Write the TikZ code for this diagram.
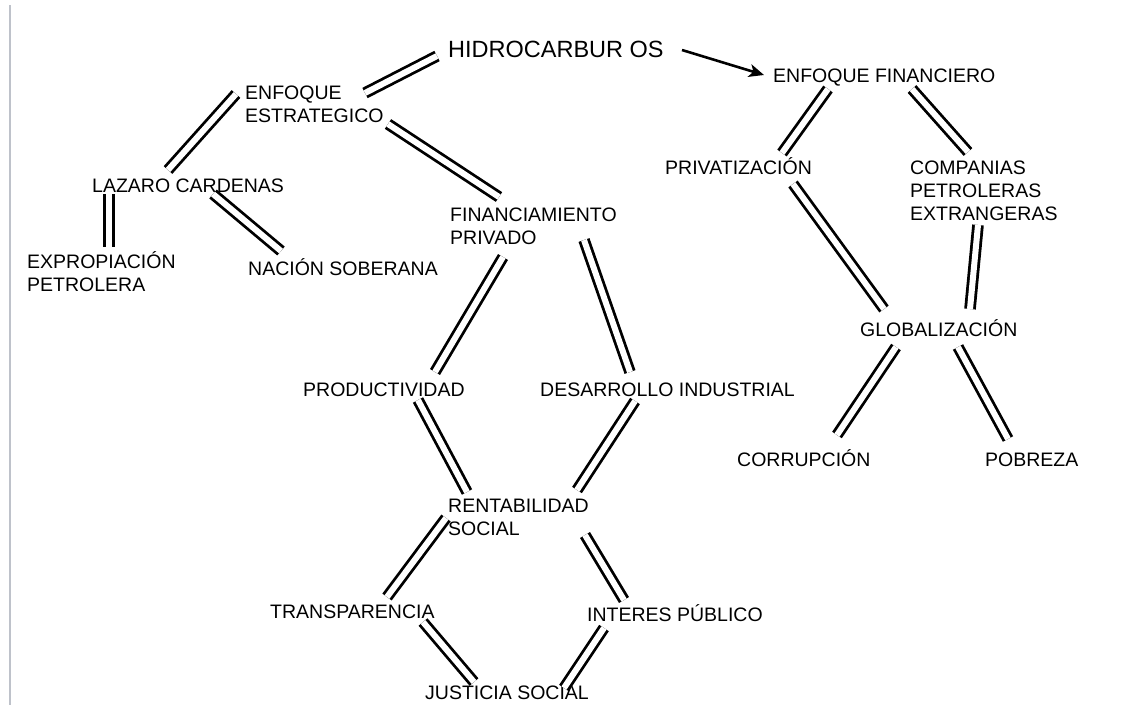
\documentclass[tikz,border=0pt]{standalone}
\usepackage{fontspec}
\setmainfont{Liberation Sans}
\usetikzlibrary{arrows.meta}
\definecolor{framegray}{RGB}{190,194,202}
\newcommand{\twolines}[2]{\begin{tabular}[t]{@{}l@{}}#1\\#2\end{tabular}}
\newcommand{\threelines}[3]{\begin{tabular}[t]{@{}l@{}}#1\\#2\\#3\end{tabular}}
\begin{document}
\begin{tikzpicture}[x=1pt,y=-1pt,
  lab/.style={anchor=base west, inner sep=0pt, font=\fontsize{19.5}{23}\selectfont},
  big/.style={anchor=base west, inner sep=0pt, font=\fontsize{23.5}{27}\selectfont},
  dbl/.style={draw=black, double=white, double distance=6pt, line width=2.8pt},
  arr/.style={draw=black, line width=2.6pt, -{Stealth[length=15pt,width=13pt,inset=4pt]}},
  frame/.style={draw=framegray, line width=2pt}
]
\useasboundingbox (0,0) rectangle (1143,713);
\fill[white] (0,0) rectangle (1143,713);
\draw[frame] (10,5) -- (10,705);

% nodes
\node[big] (hid) at (448,57) {HIDROCARBUR OS};
\node[lab] (ef) at (773,82) {ENFOQUE FINANCIERO};
\node[lab] (es) at (245,99) {\twolines{ENFOQUE}{ESTRATEGICO}};
\node[lab] (lc) at (92,192) {LAZARO CARDENAS};
\node[lab] (ex) at (27,268) {\twolines{EXPROPIACIÓN}{PETROLERA}};
\node[lab] (ns) at (248,275) {NACIÓN SOBERANA};
\node[lab] (fp) at (450,221) {\twolines{FINANCIAMIENTO}{PRIVADO}};
\node[lab] (pr) at (665,174) {PRIVATIZACIÓN};
\node[lab] (cp) at (910,174) {\threelines{COMPANIAS}{PETROLERAS}{EXTRANGERAS}};
\node[lab] (gl) at (860,336) {GLOBALIZACIÓN};
\node[lab] (co) at (737,466) {CORRUPCIÓN};
\node[lab] (po) at (985,466) {POBREZA};
\node[lab] (prod) at (303,396) {PRODUCTIVIDAD};
\node[lab] (di) at (540,396) {DESARROLLO INDUSTRIAL};
\node[lab] (rs) at (448,512) {\twolines{RENTABILIDAD}{SOCIAL}};
\node[lab] (tr) at (270,618) {TRANSPARENCIA};
\node[lab] (ip) at (587,621) {INTERES PÚBLICO};
\node[lab] (js) at (425,699) {JUSTICIA SOCIAL};

% connectors
\draw[dbl] ([shift={(-11,-1)}]hid.base west) -- ([shift={(120,-6)}]es.base west);
\draw[dbl] ([shift={(-9,-5)}]es.base west) -- ([shift={(76,-22)}]lc.base west);
\draw[dbl] ([shift={(17,2)}]lc.base west) -- ([shift={(82,-21)}]ex.base west);
\draw[dbl] ([shift={(121,2)}]lc.base west) -- ([shift={(33,-24)}]ns.base west);
\draw[dbl] ([shift={(143,25)}]es.base west) -- ([shift={(49,-24)}]fp.base west);
\draw[arr] ([shift={(234,-7)}]hid.base west) -- ([shift={(-9,-7)}]ef.base west);
\draw[dbl] ([shift={(55,7)}]ef.base west) -- ([shift={(117,-21)}]pr.base west);
\draw[dbl] ([shift={(139,7)}]ef.base west) -- ([shift={(58,-22)}]cp.base west);
\draw[dbl] ([shift={(128,10)}]pr.base west) -- ([shift={(24,-27)}]gl.base west);
\draw[dbl] ([shift={(68,51)}]cp.base west) -- ([shift={(110,-27)}]gl.base west);
\draw[dbl] ([shift={(36,11)}]gl.base west) -- ([shift={(100,-31)}]co.base west);
\draw[dbl] ([shift={(98,11)}]gl.base west) -- ([shift={(23,-27)}]po.base west);
\draw[dbl] ([shift={(53,36)}]fp.base west) -- ([shift={(132,-24)}]prod.base west);
\draw[dbl] ([shift={(134,19)}]fp.base west) -- ([shift={(90,-24)}]di.base west);
\draw[dbl] ([shift={(115,4)}]prod.base west) -- ([shift={(19,-20)}]rs.base west);
\draw[dbl] ([shift={(95,5)}]di.base west) -- ([shift={(129,-22)}]rs.base west);
\draw[dbl] ([shift={(-2,6)}]rs.base west) -- ([shift={(117,-21)}]tr.base west);
\draw[dbl] ([shift={(137,23)}]rs.base west) -- ([shift={(37,-21)}]ip.base west);
\draw[dbl] ([shift={(153,4)}]tr.base west) -- ([shift={(49,-17)}]js.base west);
\draw[dbl] ([shift={(17,7)}]ip.base west) -- ([shift={(139,-11)}]js.base west);
\end{tikzpicture}
\end{document}
